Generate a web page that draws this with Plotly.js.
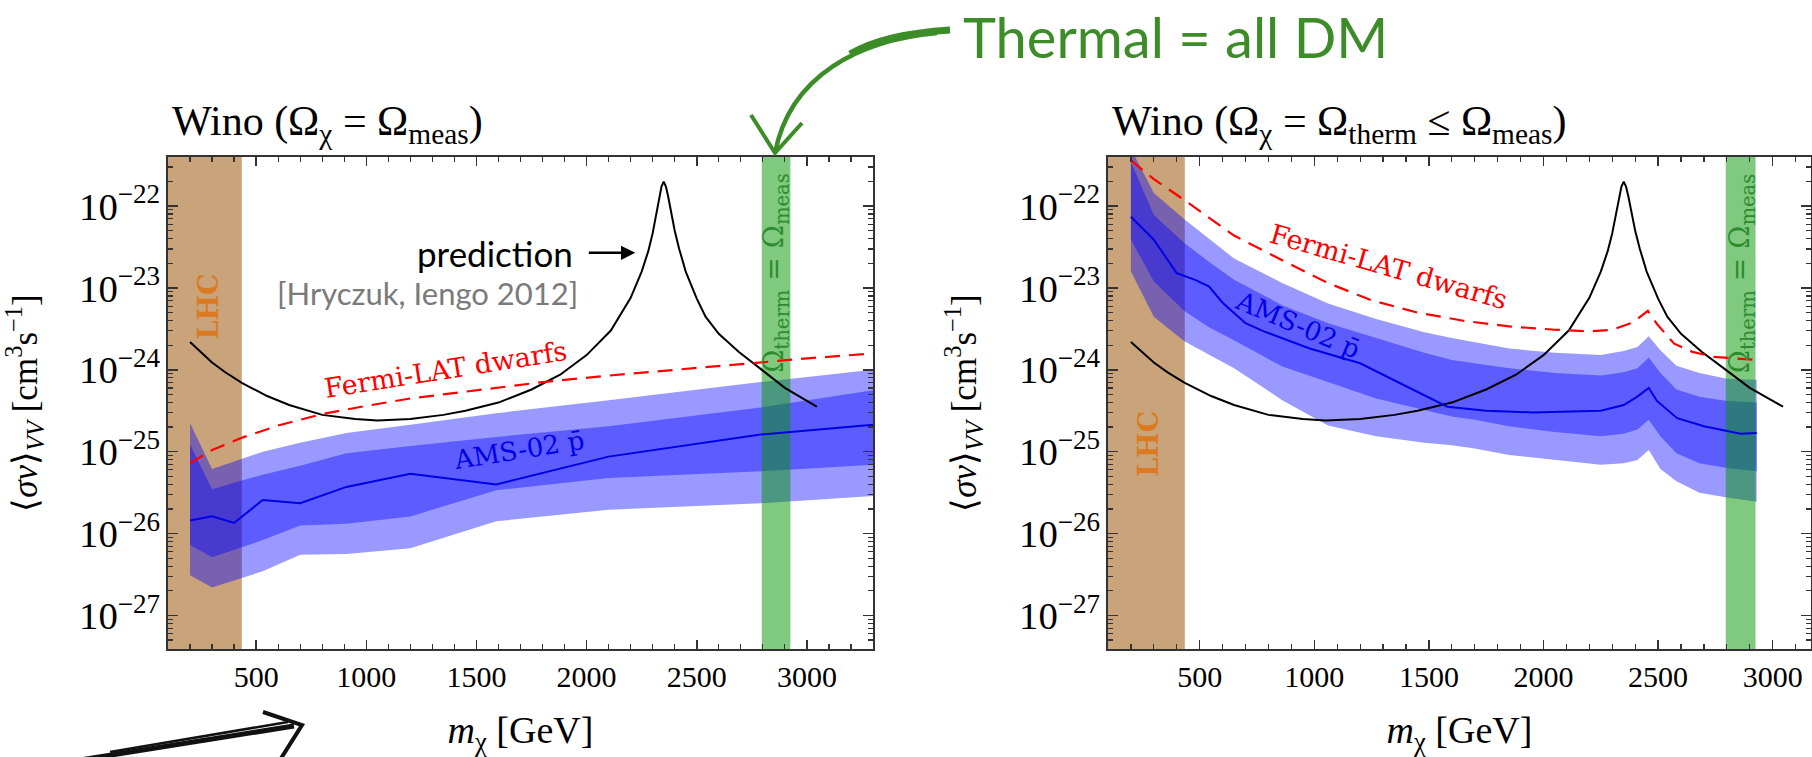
<!DOCTYPE html>
<html>
<head>
<meta charset="utf-8">
<script src="https://cdn.plot.ly/plotly-3.0.1.min.js"></script>
<style>
  html, body { margin: 0; padding: 0; background: #fff; }
  #chart { width: 1812px; height: 757px; }
</style>
</head>
<body>
<div id="chart"></div>
<script>
// Wino annihilation <sigma v> (cm^3 s^-1) versus mass m_chi (GeV).
// All curve values are log10(<sigma v>).

// Theory prediction (Sommerfeld-enhanced), same curve in both panels
const predMass = [200, 250, 300, 360, 435, 550, 650, 800, 950, 1050, 1200, 1350, 1450, 1600, 1750, 1880, 2000,
                  2110, 2200, 2250, 2280, 2300, 2315, 2330, 2340, 2350, 2360, 2370, 2385, 2400, 2420,
                  2450, 2500, 2540, 2600, 2690, 2800, 2900, 3000, 3045];
const predLog  = [-23.66, -23.79, -23.91, -24.03, -24.16, -24.32, -24.43, -24.55, -24.60, -24.62, -24.60, -24.55, -24.50,
                  -24.40, -24.24, -24.06, -23.82, -23.52, -23.12, -22.80, -22.55, -22.33, -22.12, -21.88,
                  -21.76, -21.70, -21.76, -21.88, -22.09, -22.30, -22.52, -22.80, -23.13, -23.35, -23.56,
                  -23.78, -24.01, -24.22, -24.38, -24.45];

// Left panel: Omega_chi = Omega_meas
const fermiLeftMass = [200, 300, 435, 600, 800, 1000, 1200, 1500, 1800, 2100, 2400, 2700, 3000, 3300];
const fermiLeftLog  = [-25.14, -24.98, -24.83, -24.68, -24.54, -24.44, -24.35, -24.25, -24.15, -24.07,
                       -24.00, -23.93, -23.86, -23.80];

const amsLeftMass    = [200, 300, 400, 530, 700, 910, 1200, 1590, 2100, 2790, 3300];
const amsLeftMedian  = [-25.84, -25.79, -25.87, -25.59, -25.63, -25.43, -25.27, -25.40, -25.06, -24.79, -24.67];
const amsLeft2sUpper = [-24.65, -25.21, -25.12, -25.00, -24.89, -24.77, -24.67, -24.53, -24.37, -24.15, -24.00];
const amsLeft1sUpper = [-24.91, -25.46, -25.38, -25.28, -25.17, -25.02, -24.93, -24.82, -24.69, -24.46, -24.25];
const amsLeft1sLower = [-26.14, -26.29, -26.20, -26.08, -25.90, -25.88, -25.79, -25.47, -25.32, -25.24, -25.16];
const amsLeft2sLower = [-26.51, -26.66, -26.57, -26.46, -26.26, -26.25, -26.18, -25.85, -25.71, -25.63, -25.54];

// Right panel: Omega_chi = Omega_therm <= Omega_meas
const fermiRightMass = [200, 300, 430, 510, 650, 860, 1060, 1250, 1450, 1650, 1850, 2050, 2200, 2300,
                        2390, 2455, 2495, 2570, 2650, 2740, 2930];
const fermiRightLog  = [-21.44, -21.67, -21.92, -22.08, -22.36, -22.66, -22.94, -23.15, -23.30, -23.40,
                        -23.47, -23.51, -23.53, -23.51, -23.42, -23.28, -23.44, -23.68, -23.78, -23.84, -23.88];

const amsRightMedMass = [200, 300, 400, 440, 480, 510, 540, 600, 700, 780, 980, 1200, 1370, 1580, 1750,
                         1950, 2250, 2350, 2408, 2459, 2495, 2583, 2700, 2860, 2930];
const amsRightMedian  = [-22.13, -22.41, -22.82, -22.86, -22.90, -22.94, -22.98, -23.18, -23.43, -23.53,
                         -23.74, -23.92, -24.16, -24.45, -24.50, -24.52, -24.50, -24.43, -24.33, -24.22,
                         -24.38, -24.59, -24.69, -24.78, -24.77];

const amsRightMass    = [200, 300, 433, 540, 650, 860, 1060, 1270, 1480, 1600, 1700, 1850, 2050, 2250,
                         2350, 2410, 2459, 2510, 2580, 2680, 2800, 2930];
const amsRight2sUpper = [-21.30, -21.84, -22.16, -22.40, -22.64, -22.94, -23.19, -23.38, -23.54, -23.61,
                         -23.66, -23.74, -23.79, -23.82, -23.77, -23.72, -23.59, -23.76, -23.95, -24.04,
                         -24.11, -24.12];
const amsRight1sUpper = [-21.46, -22.11, -22.45, -22.68, -22.90, -23.21, -23.43, -23.61, -23.79, -23.88,
                         -23.92, -23.98, -24.04, -24.07, -24.03, -23.98, -23.85, -24.04, -24.24, -24.33,
                         -24.38, -24.40];
const amsRight1sLower = [-22.41, -22.92, -23.28, -23.48, -23.64, -23.96, -24.15, -24.35, -24.49, -24.57,
                         -24.61, -24.69, -24.76, -24.81, -24.78, -24.73, -24.61, -24.81, -25.02, -25.14,
                         -25.20, -25.24];
const amsRight2sLower = [-22.80, -23.35, -23.65, -23.81, -23.98, -24.37, -24.68, -24.81, -24.89, -24.92,
                         -24.96, -25.04, -25.10, -25.16, -25.14, -25.10, -24.98, -25.21, -25.36, -25.50,
                         -25.56, -25.61];

// Mass windows (GeV)
const lhcExcluded  = [80, 435];     // LHC exclusion
const thermalRange = [2795, 2925];  // Omega_therm = Omega_meas

// ---- helpers ----
const pow10 = arr => arr.map(v => Math.pow(10, v));
const bandPolygon = (x, up, lo) => ({
  x: x.concat(x.slice().reverse()),
  y: pow10(up).concat(pow10(lo).reverse())
});

const W = 1812, H = 757;
const M = {l: 168, r: 1, t: 157, b: 108};
const PW = W - M.l - M.r, PH = H - M.t - M.b;
const px = x => (x - M.l) / PW;     // page pixel -> paper fraction
const py = y => (H - M.b - y) / PH;
const pt = (x, y) => px(x).toFixed(5) + ',' + py(y).toFixed(5);

const SERIF = 'Liberation Serif, Times New Roman, serif';
const CMLIKE = 'DejaVu Serif, serif';
const SANS = 'Lato, Open Sans, sans-serif';
const FRAME = '#333';

const BAND = 'rgba(0,0,255,0.40)';

function panelTraces(xa, ya, d) {
  const t = [];
  const b2 = bandPolygon(d.bandMass, d.up2, d.lo2);
  t.push({x: b2.x, y: b2.y, xaxis: xa, yaxis: ya, type: 'scatter', mode: 'lines',
          fill: 'toself', fillcolor: BAND, line: {width: 0}, hoverinfo: 'skip'});
  const b1 = bandPolygon(d.bandMass, d.up1, d.lo1);
  t.push({x: b1.x, y: b1.y, xaxis: xa, yaxis: ya, type: 'scatter', mode: 'lines',
          fill: 'toself', fillcolor: BAND, line: {width: 0}, hoverinfo: 'skip'});
  // thermal-relic mass window
  t.push({x: [thermalRange[0], thermalRange[1], thermalRange[1], thermalRange[0], thermalRange[0]],
          y: [1e-30, 1e-30, 1e-19, 1e-19, 1e-30], xaxis: xa, yaxis: ya, type: 'scatter', mode: 'lines',
          fill: 'toself', fillcolor: 'rgba(0,150,0,0.5)', line: {width: 0}, hoverinfo: 'skip'});
  t.push({x: predMass, y: pow10(predLog), xaxis: xa, yaxis: ya, type: 'scatter', mode: 'lines',
          line: {color: '#000', width: 2}, hoverinfo: 'skip'});
  t.push({x: d.fermiMass, y: pow10(d.fermiLog), xaxis: xa, yaxis: ya, type: 'scatter', mode: 'lines',
          line: {color: '#ff0000', width: 2.2, dash: '15px,9px'}, hoverinfo: 'skip'});
  t.push({x: d.medMass, y: pow10(d.med), xaxis: xa, yaxis: ya, type: 'scatter', mode: 'lines',
          line: {color: '#0000e6', width: 2}, hoverinfo: 'skip'});
  return t;
}

const traces = [].concat(
  panelTraces('x', 'y', {
    bandMass: amsLeftMass, up2: amsLeft2sUpper, lo2: amsLeft2sLower,
    up1: amsLeft1sUpper, lo1: amsLeft1sLower,
    medMass: amsLeftMass, med: amsLeftMedian,
    fermiMass: fermiLeftMass, fermiLog: fermiLeftLog
  }),
  panelTraces('x2', 'y2', {
    bandMass: amsRightMass, up2: amsRight2sUpper, lo2: amsRight2sLower,
    up1: amsRight1sUpper, lo1: amsRight1sLower,
    medMass: amsRightMedMass, med: amsRightMedian,
    fermiMass: fermiRightMass, fermiLog: fermiRightLog
  })
);

function xAxis(domain, anchor, range) {
  return {
    domain, anchor, range, type: 'linear', fixedrange: true,
    tickmode: 'linear', tick0: 0, dtick: 500,
    ticks: 'inside', ticklen: 9, tickwidth: 1.5, tickcolor: FRAME,
    minor: {tick0: 0, dtick: 100, ticks: 'inside', ticklen: 5, tickwidth: 1.2, tickcolor: FRAME, showgrid: false},
    showline: true, linecolor: FRAME, linewidth: 1.6, mirror: 'ticks',
    showgrid: false, zeroline: false,
    tickfont: {family: SERIF, size: 30, color: '#000'},
    title: {text: '<i>m</i><sub>χ</sub> [GeV]', font: {family: SERIF, size: 38, color: '#000'}, standoff: 28}
  };
}
function yAxis(anchor) {
  return {
    domain: [0, 1], anchor, type: 'log', range: [-27.41, -21.40], fixedrange: true,
    tickmode: 'linear', tick0: 0, dtick: 1, exponentformat: 'power',
    ticks: 'inside', ticklen: 10, tickwidth: 1.5, tickcolor: FRAME,
    minor: {dtick: 'D1', ticks: 'inside', ticklen: 5, tickwidth: 1.2, tickcolor: FRAME, showgrid: false},
    showline: true, linecolor: FRAME, linewidth: 1.6, mirror: 'ticks',
    showgrid: false, zeroline: false,
    tickfont: {family: SERIF, size: 31, color: '#000'},
    title: {text: '⟨<i>σv</i>⟩<sub><i>VV</i></sub> [cm<sup>3</sup>s<sup>−1</sup>]',
            font: {family: SERIF, size: 35, color: '#000'}, standoff: 32}
  };
}

const txt = (o) => Object.assign({showarrow: false, xanchor: 'center', yanchor: 'middle'}, o);

const annotations = [
  // panel titles
  txt({xref: 'paper', yref: 'paper', x: px(170), y: py(124), xanchor: 'left',
       text: 'Wino (Ω<sub>χ</sub> = Ω<sub>meas</sub>)', font: {family: SERIF, size: 42, color: '#000'}}),
  txt({xref: 'paper', yref: 'paper', x: px(1110), y: py(124), xanchor: 'left',
       text: 'Wino (Ω<sub>χ</sub> = Ω<sub>therm</sub> ≤ Ω<sub>meas</sub>)', font: {family: SERIF, size: 42, color: '#000'}}),
  // headline
  txt({xref: 'paper', yref: 'paper', x: px(1175), y: py(36),
       text: 'Thermal = all DM', font: {family: SANS, size: 56, color: '#3c8c28'}}),

  // left panel labels
  txt({xref: 'x', yref: 'y', x: 285, y: -23.23, textangle: -90, text: '<b>LHC</b>',
       font: {family: CMLIKE, size: 27, color: '#dc7a22'}}),
  txt({xref: 'x', yref: 'y', x: 2858, y: -22.82, textangle: -90,
       text: 'Ω<sub>therm</sub> = Ω<sub>meas</sub>', font: {family: CMLIKE, size: 28, color: '#2e8b2e'}}),
  txt({xref: 'x', yref: 'y', x: 1360, y: -24.00, textangle: -9, text: 'Fermi-LAT dwarfs',
       font: {family: CMLIKE, size: 27, color: '#ff0000'}}),
  txt({xref: 'x', yref: 'y', x: 1694, y: -24.98, textangle: -9, text: 'AMS-02 p\u0304',
       font: {family: CMLIKE, size: 26, color: '#0000e6'}}),
  txt({xref: 'x', yref: 'y', x: 1585, y: -22.57, text: 'prediction',
       font: {family: SANS, size: 35, color: '#000'}}),
  {xref: 'x', yref: 'y', x: 2221, y: -22.57, ax: -48, ay: 0, text: '', showarrow: true,
   arrowhead: 2, arrowsize: 1.1, arrowwidth: 2.6, arrowcolor: '#000'},
  txt({xref: 'x', yref: 'y', x: 1280, y: -23.06, text: '[Hryczuk, Iengo 2012]',
       font: {family: SANS, size: 31, color: '#7a7a7a'}}),

  // right panel labels
  txt({xref: 'x2', yref: 'y2', x: 276, y: -24.90, textangle: -90, text: '<b>LHC</b>',
       font: {family: CMLIKE, size: 27, color: '#dc7a22'}}),
  txt({xref: 'x2', yref: 'y2', x: 2862, y: -22.82, textangle: -90,
       text: 'Ω<sub>therm</sub> = Ω<sub>meas</sub>', font: {family: CMLIKE, size: 28, color: '#2e8b2e'}}),
  txt({xref: 'x2', yref: 'y2', x: 1323, y: -22.74, textangle: 16, text: 'Fermi-LAT dwarfs',
       font: {family: CMLIKE, size: 27, color: '#ff0000'}}),
  txt({xref: 'x2', yref: 'y2', x: 930, y: -23.45, textangle: 23, text: 'AMS-02 p\u0304',
       font: {family: CMLIKE, size: 26, color: '#0000e6'}})
];

const shapes = [
  // LHC-excluded masses, under the data
  {type: 'rect', layer: 'below', xref: 'x', yref: 'y domain', x0: lhcExcluded[0], x1: lhcExcluded[1], y0: 0, y1: 1,
   fillcolor: '#c9a37a', line: {width: 0}},
  {type: 'rect', layer: 'below', xref: 'x2', yref: 'y2 domain', x0: lhcExcluded[0], x1: lhcExcluded[1], y0: 0, y1: 1,
   fillcolor: '#c9a37a', line: {width: 0}},
  // hand-drawn green arrow from the headline to the thermal window
  {type: 'path', xref: 'paper', yref: 'paper', layer: 'above',
   path: 'M ' + pt(950, 30) + ' C ' + pt(905, 33) + ' ' + pt(875, 40) + ' ' + pt(850, 54),
   line: {color: '#3c8c28', width: 7}},
  {type: 'path', xref: 'paper', yref: 'paper', layer: 'above',
   path: 'M ' + pt(937, 33) + ' C ' + pt(860, 40) + ' ' + pt(790, 75) + ' ' + pt(775, 153),
   line: {color: '#3c8c28', width: 4.5}},
  {type: 'path', xref: 'paper', yref: 'paper', layer: 'above',
   path: 'M ' + pt(751, 115) + ' L ' + pt(775, 153) + ' L ' + pt(802, 123),
   line: {color: '#3c8c28', width: 4}},
  // hand-drawn black arrow, bottom left
  {type: 'path', xref: 'paper', yref: 'paper', layer: 'above',
   path: 'M ' + pt(80, 760) + ' L ' + pt(294, 726),
   line: {color: '#111', width: 5}},
  {type: 'path', xref: 'paper', yref: 'paper', layer: 'above',
   path: 'M ' + pt(110, 752) + ' L ' + pt(288, 722),
   line: {color: '#111', width: 2.5}},
  {type: 'path', xref: 'paper', yref: 'paper', layer: 'above',
   path: 'M ' + pt(263, 712) + ' L ' + pt(302, 725) + ' L ' + pt(280, 760),
   line: {color: '#111', width: 4}}
];

const layout = {
  width: W, height: H,
  margin: M,
  paper_bgcolor: '#fff', plot_bgcolor: '#fff',
  showlegend: false,
  xaxis:  xAxis([0, px(873)], 'y', [100, 3300]),
  yaxis:  yAxis('x'),
  xaxis2: xAxis([px(1108), 1], 'y2', [100, 3167]),
  yaxis2: yAxis('x2'),
  annotations, shapes
};

Plotly.newPlot('chart', traces, layout, {staticPlot: true, displayModeBar: false});
</script>
</body>
</html>
